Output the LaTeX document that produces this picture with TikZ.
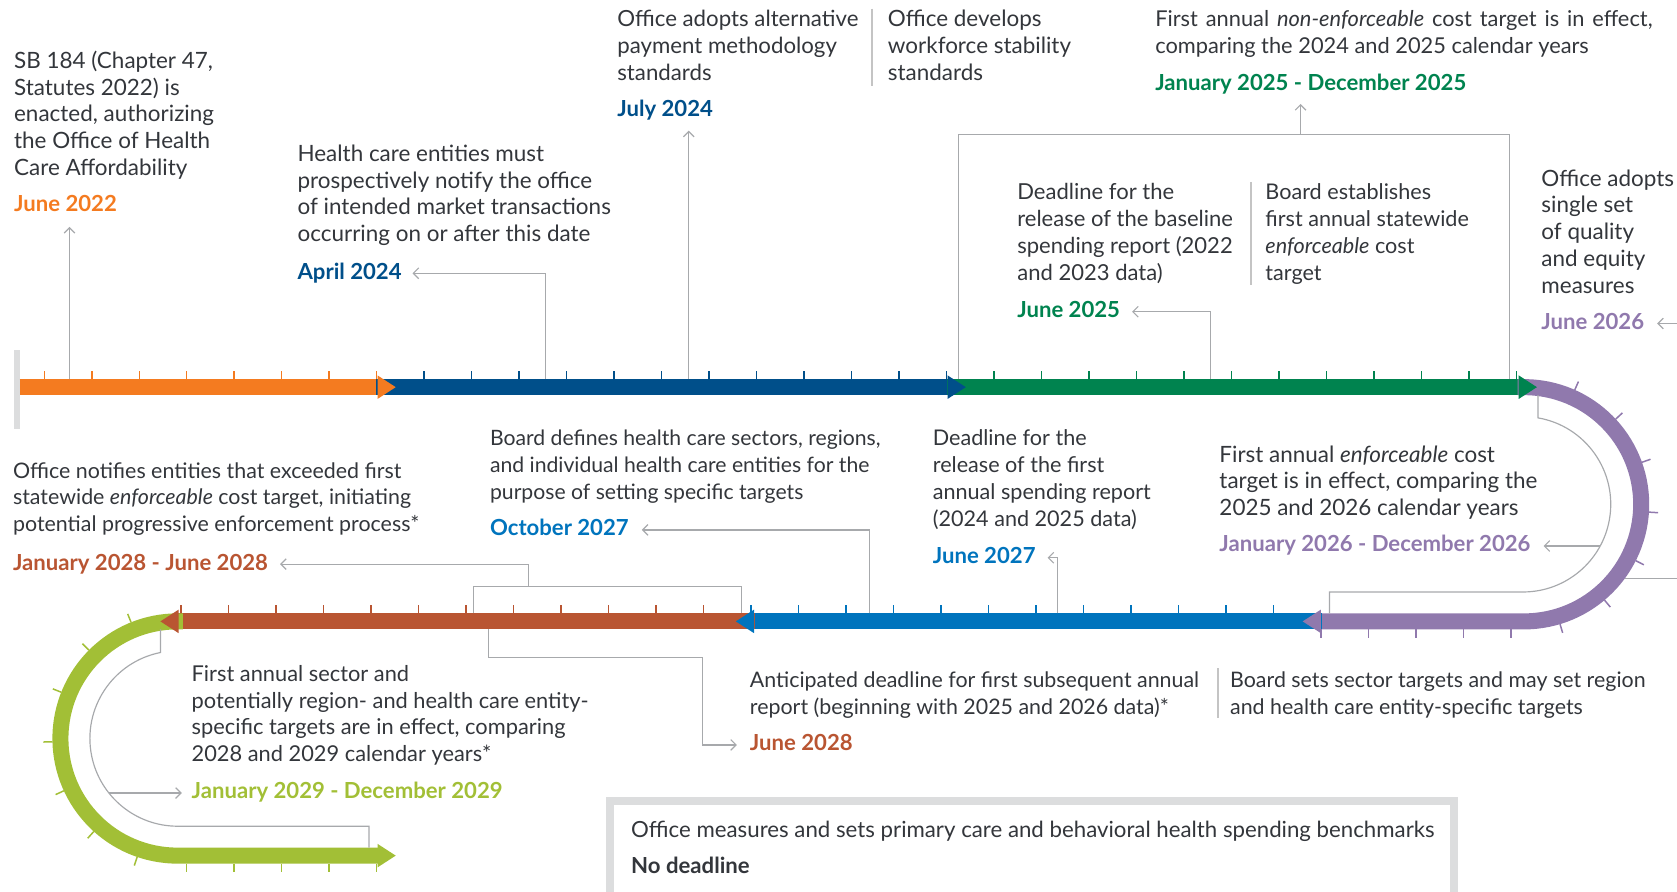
\documentclass[tikz,border=0pt]{standalone}
\usepackage{fontspec}
\setmainfont{Lato}
\usetikzlibrary{arrows.meta,calc}
\definecolor{cOr}{HTML}{F47B20}
\definecolor{cDb}{HTML}{004F8A}
\definecolor{cGr}{HTML}{00834F}
\definecolor{cPu}{HTML}{9079AD}
\definecolor{cLb}{HTML}{0074BD}
\definecolor{cBr}{HTML}{B95532}
\definecolor{cLg}{HTML}{A2BF36}
\definecolor{cLn}{HTML}{A7A9AC}
\definecolor{cSep}{HTML}{C4C4C4}
\definecolor{cTx}{HTML}{33363B}
\definecolor{cBox}{HTML}{DCDDDE}
\newcommand{\tlines}[1]{\begin{tabular}[t]{@{}l@{}}#1\end{tabular}}
\newcommand{\fz}[1]{\fontsize{#1}{25}\selectfont}
\newcommand{\hdR}[3]{\fill[#1] (#2-17,#3-11) -- (#2,#3) -- (#2-17,#3+11) -- cycle;}
\newcommand{\hdL}[3]{\fill[#1] (#2+17,#3-11) -- (#2,#3) -- (#2+17,#3+11) -- cycle;}
\begin{document}
\begin{tikzpicture}[x=1pt,y=-1pt,
  txt/.style={inner sep=0pt, anchor=base west, text=cTx, font=\fz{21}},
  date/.style={inner sep=0pt, anchor=base west, font=\fz{20.7}\bfseries, text height=15pt, text depth=4pt},
  cline/.style={draw=cLn, line width=1.1pt},
  conn/.style={cline, -{Straight Barb[length=5pt,width=10pt]}},
  sepl/.style={draw=cSep, line width=1.6pt},
  bar/.style={line width=15pt},
  tk/.style={line width=1.4pt}]
\useasboundingbox (0,0) rectangle (1568,834);
\clip (0,0) rectangle (1568,834);

% start marker
\fill[cBox] (13.4,327) rectangle (18.4,401);

% bars
\draw[bar,cOr] (18.4,362) -- (354,362);
\draw[bar,cDb] (352,362) -- (887,362);
\draw[bar,cGr] (885,362) -- (1421,362);
\draw[bar,cPu] (1419,362) -- (1425,362) arc[start angle=-90,end angle=90,radius=109.5] -- (1234,581);
\draw[bar,cLb] (1236,581) -- (704,581);
\draw[bar,cBr] (706,581) -- (166,581);
\draw[bar,cLg] (171,581) -- (166,581) arc[start angle=270,end angle=90,radius=109.5] -- (354,800);
% heads
\hdR{cOr}{370}{362}
\hdR{cDb}{903}{362}
\hdR{cGr}{1437}{362}
\hdL{cPu}{1218}{581}
\hdL{cLb}{688}{581}
\hdL{cBr}{150}{581}
\hdR{cLg}{370}{800}

% ticks
\foreach \k in {0,...,7} \draw[tk,cOr] ({41.4+44.4*\k},354.5) -- ++(0,-8);
\foreach \k in {8,...,19} \draw[tk,cDb] ({41.4+44.4*\k},354.5) -- ++(0,-8);
\foreach \k in {20,...,31} \draw[tk,cGr] ({41.4+44.4*\k},354.5) -- ++(0,-8);
\foreach \a in {73.3,50.0,26.8,3.6,-19.6,-42.9,-66.1}
  \draw[tk,cPu] ($(1425,471.5)+(\a:117)$) -- ($(1425,471.5)+(\a:125.5)$);
\foreach \k in {0,...,4} \draw[tk,cPu] ({1235+44.4*\k},588.5) -- ++(0,8);
\foreach \k in {1,...,12} \draw[tk,cLb] ({1235-44.4*\k},573.5) -- ++(0,-8);
\foreach \k in {13,...,24} \draw[tk,cBr] ({1235-44.4*\k},573.5) -- ++(0,-8);
\foreach \a in {108.8,132.0,155.3,178.5,201.7,224.9,248.2}
  \draw[tk,cLg] ($(166,690.5)+(\a:117)$) -- ($(166,690.5)+(\a:125.5)$);
\foreach \k in {0,...,4} \draw[tk,cLg] ({352-44.4*\k},807.5) -- ++(0,8);

% texts
\node[txt] (t1) at (13,64) {\tlines{SB 184 (Chapter 47,\\Statutes 2022) is\\enacted, authorizing\\the Office of Health\\Care Affordability}};
\node[date,text=cOr] (d1) at (13,198) {June 2022};
\node[txt] (t2) at (278,151) {\tlines{Health care entities must\\prospectively notify the office\\of intended market transactions\\occurring on or after this date}};
\node[date,text=cDb] (d2) at (278,261) {April 2024};
\node[txt,font=\fz{20.8}] (t3a) at (577,25) {\tlines{Office adopts alternative\\payment methodology\\standards}};
\node[txt] (t3b) at (830,25) {\tlines{Office develops\\workforce stability\\standards}};
\node[date,text=cDb] (d3) at (577,109) {July 2024};
\node[txt,font=\fz{20.4}] (t4) at (1080,25) {\tlines{\makebox[465pt][s]{First annual \textit{non-enforceable} cost target is in effect,}\\comparing the 2024 and 2025 calendar years}};
\node[date,text=cGr] (d4) at (1080,85) {January 2025 - December 2025};
\node[txt,font=\fz{20.6}] (t5a) at (951,187) {\tlines{Deadline for the\\release of the baseline\\spending report (2022\\and 2023 data)}};
\node[txt,font=\fz{20.2}] (t5b) at (1183,187) {\tlines{Board establishes\\first annual statewide\\\textit{enforceable} cost\\target}};
\node[date,text=cGr] (d5) at (951,297) {June 2025};
\node[txt] (t6) at (1441,174) {\tlines{Office adopts\\single set\\of quality\\and equity\\measures}};
\node[date,text=cPu] (d6) at (1441,308) {June 2026};
\node[txt] (t7) at (1140,432) {\tlines{First annual \textit{enforceable} cost\\target is in effect, comparing the\\2025 and 2026 calendar years}};
\node[date,text=cPu] (d7) at (1140,516) {January 2026 - December 2026};
\node[txt,font=\fz{19.8}] (t8) at (458,417) {\tlines{Board defines health care sectors, regions,\\and individual health care entities for the\\purpose of setting specific targets}};
\node[date,text=cLb] (d8) at (458,501) {October 2027};
\node[txt,font=\fz{20.2}] (t9) at (872,417) {\tlines{Deadline for the\\release of the first\\annual spending report\\(2024 and 2025 data)}};
\node[date,text=cLb] (d9) at (872,527) {June 2027};
\node[txt,font=\fz{20}] (t10) at (12,447) {\tlines{Office notifies entities that exceeded first\\statewide \textit{enforceable} cost target, initiating\\potential progressive enforcement process*}};
\node[date,text=cBr] (d10) at (12,533) {January 2028 - June 2028};
\node[txt,font=\fz{20}] (t11a) at (701,643) {\tlines{Anticipated deadline for first subsequent annual\\report (beginning with 2025 and 2026 data)*}};
\node[txt,font=\fz{20}] (t11b) at (1150,643) {\tlines{Board sets sector targets and may set region\\and health care entity-specific targets}};
\node[date,text=cBr] (d11) at (701,702) {June 2028};
\node[txt,font=\fz{20.4}] (t12) at (179,637) {\tlines{First annual sector and\\potentially region- and health care entity-\\specific targets are in effect, comparing\\2028 and 2029 calendar years*}};
\node[date,text=cLg] (d12) at (179,747) {January 2029 - December 2029};

% separators
\draw[sepl] (815,8) -- (815,80);
\draw[sepl] (1169.5,170) -- (1169.5,266.5);
\draw[sepl] (1138.5,625) -- (1138.5,671);

% bottom box
\draw[draw=cBox,line width=7pt,fill=white] (570.5,749) rectangle (1359.5,870);
\node[txt,font=\fz{20.8}] (bx1) at (590,783) {Office measures and sets primary care and behavioral health spending benchmarks};
\node[date,text=cTx] (bx2) at (590,817) {No deadline};

% connector anchors
\coordinate (b1) at (65,354.5);
\coordinate (b2) at (510,354.5);
\coordinate (b3) at (644,354.5);
\coordinate (b4l) at (896,354.5);
\coordinate (b4c) at (1411,126);
\coordinate (b4r) at (1411,354.5);
\coordinate (b4t) at (1216,126);
\coordinate (b5) at (1132,354.5);
\coordinate (p6a) at (1519.5,541);
\coordinate (p6b) at (1590,541);
\coordinate (j7) at (1496.1,510.5);
\coordinate (b8) at (813,573.5);
\coordinate (b9) at (989,573.5);
\coordinate (k1) at (443,573.5);
\coordinate (k2) at (693,548);
\coordinate (k3) at (693,573.5);
\coordinate (k4) at (494,548);
\coordinate (m1) at (457,588.5);
\coordinate (m2) at (656.5,615);
\coordinate (j12) at (101.8,741.5);

% connectors
\draw[conn,shorten >=10pt] (b1) -- (b1 |- d1.south);
\draw[conn] (b2) |- ([xshift=10pt]d2.east);
\draw[conn,shorten >=9pt] (b3) -- (b3 |- d3.south);
\draw[cline] (b4l) |- (b4c) -- (b4r);
\draw[conn,shorten >=8pt] (b4t) -- (b4t |- d4.south);
\draw[conn] (b5) |- ([xshift=11pt]d5.east);
\draw[conn] (p6a) -- (p6b) |- ([xshift=12pt]d6.east);
\draw[cline] (1438,369.5) -- (1438,390.7) arc[start angle=-80.2,end angle=90,radius=82] -- (1243,553.5) -- (1243,573.5);
\draw[conn] (j7) -- ([xshift=12pt]d7.east);
\draw[conn] (b8) |- ([xshift=12pt]d8.east);
\draw[conn] (b9) |- ([xshift=11pt]d9.east);
\draw[cline] (k1) |- (k2) -- (k3);
\draw[conn] (k4) |- ([xshift=11pt]d10.east);
\draw[conn] (m1) |- (m2) |- ([xshift=-12pt]d11.west);
\draw[cline] (150,588.5) -- (150,610.1) arc[start angle=258.7,end angle=90,radius=82] -- (345,772.5) -- (345,792.5);
\draw[conn] (j12) -- ([xshift=-9pt]d12.west);
\end{tikzpicture}
\end{document}
